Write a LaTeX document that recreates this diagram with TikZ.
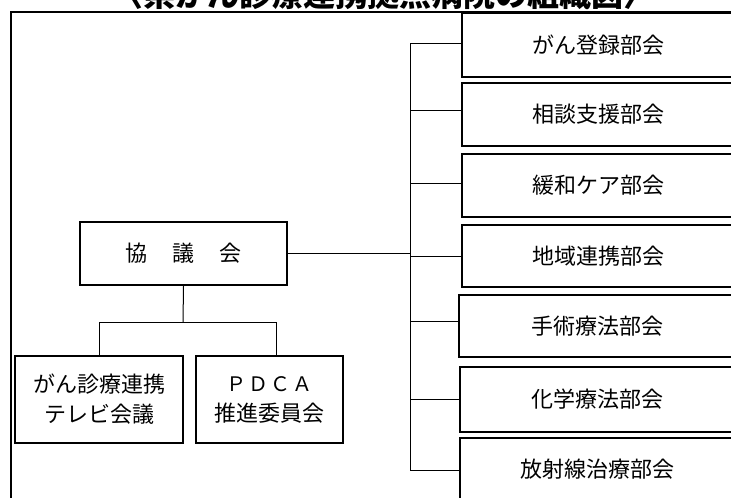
\documentclass[tikz,border=0pt]{standalone}
\usepackage{fontspec}
\newfontfamily\jp{Noto Sans CJK JP}
\begin{document}
\begin{tikzpicture}[x=1pt,y=-1pt,
  box/.style={draw, line width=1.2pt, inner sep=0pt, align=center,
    font=\jp\fontsize{22}{30}\selectfont},
  mainbox/.style={box, line width=2.4pt},
  conn/.style={line width=1pt},
  frame/.style={line width=1.3pt}]
\clip (0,0) rectangle (731,498);
\fill[white] (0,0) rectangle (731,498);
% title (cut off at top)
\node[anchor=base, inner sep=0pt, font=\jp\bfseries\fontsize{32}{32}\selectfont] (title) at (383,6) {〈県がん診療連携拠点病院の組織図〉};
% frame
\draw[frame] (11,505) -- (11,12) -- (745,12);
% right column
\node[box, minimum width=273pt, minimum height=64pt] (b1) at (598.5,45)   {がん登録部会};
\node[box, minimum width=273pt, minimum height=63pt] (b2) at (598.5,114.5) {相談支援部会};
\node[box, minimum width=273pt, minimum height=63pt] (b3) at (598.5,185.5) {緩和ケア部会};
\node[box, minimum width=273pt, minimum height=62pt] (b4) at (598.5,256)   {地域連携部会};
\node[box, minimum width=276pt, minimum height=62pt] (b5) at (597,326)     {手術療法部会};
\node[box, minimum width=275pt, minimum height=65pt] (b6) at (597.5,399.5) {化学療法部会};
\node[box, minimum width=275pt, minimum height=62pt] (b7) at (597.5,469)   {放射線治療部会};
% main
\node[mainbox, minimum width=207pt, minimum height=63pt] (kyo) at (183.5,253.5) {協\hspace{25pt}議\hspace{25pt}会};
\node[box, minimum width=168pt, minimum height=87pt] (gan) at (99,399.5) {がん診療連携\\テレビ会議};
\node[box, minimum width=147pt, minimum height=87pt] (pdca) at (269.5,399.5) {{\fontsize{20}{30}\selectfont Ｐ\hspace{2pt}Ｄ\hspace{2pt}Ｃ\hspace{2pt}Ａ}\\推進委員会};
% trunk
\coordinate (trunk) at (410,0);
\draw[conn] ([yshift=2pt]b1.west -| trunk) -- ([yshift=-1pt]b7.west -| trunk);
\draw[conn] ([yshift=2pt]b1.west -| trunk) -- ([yshift=2pt]b1.west);
\draw[conn] ([yshift=4pt]b2.west -| trunk) -- ([yshift=4pt]b2.west);
\draw[conn] ([yshift=2pt]b3.west -| trunk) -- ([yshift=2pt]b3.west);
\draw[conn] (b4.west -| trunk) -- (b4.west);
\draw[conn] ([yshift=5pt]b5.west -| trunk) -- ([yshift=5pt]b5.west);
\draw[conn] (b6.west -| trunk) -- (b6.west);
\draw[conn] ([yshift=-1pt]b7.west -| trunk) -- ([yshift=-1pt]b7.west);
\draw[conn] (kyo.east) -- (kyo.east -| trunk);
% lower branch
\coordinate (split) at (183,322);
\coordinate (dropB) at (276,322);
\draw[conn] (kyo.south) -- (split);
\draw[conn] (gan.north) -- (gan.north |- split) -- (dropB) -- (dropB |- pdca.north);
\end{tikzpicture}
\end{document}
